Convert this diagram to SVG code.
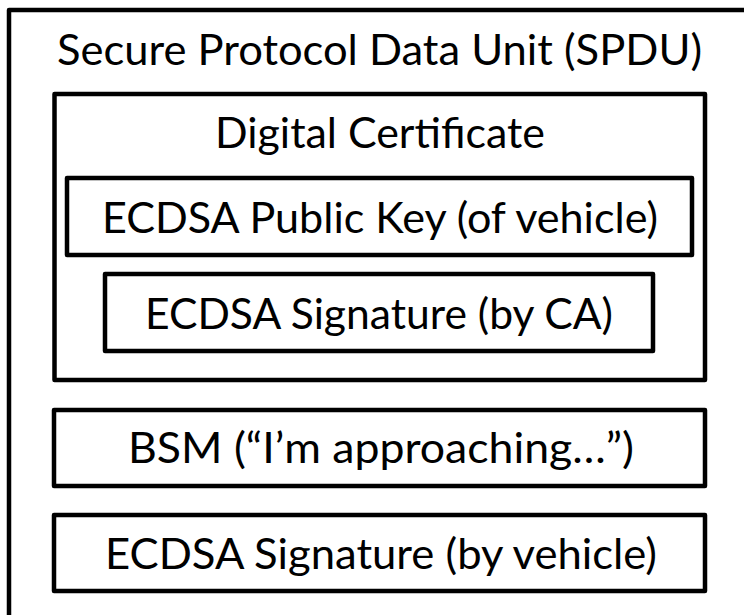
<svg xmlns="http://www.w3.org/2000/svg" width="744" height="615" viewBox="0 0 744 615">
  <style>
    .box { fill: #ffffff; stroke: #000000; stroke-width: 4.5; stroke-linejoin: round; }
    .label { font-family: Lato, "Open Sans", "Liberation Sans", sans-serif; font-size: 42px; fill: #000000; }
  </style>
  <rect width="744" height="615" fill="#ffffff"/>

  <!-- outer container: the SPDU -->
  <g id="spdu">
    <rect class="box" x="9" y="10" width="742" height="620"/>
    <text class="label" x="57" y="65" textLength="645" lengthAdjust="spacingAndGlyphs">Secure Protocol Data Unit (SPDU)</text>
  </g>

  <!-- certificate block with its two nested fields -->
  <g id="certificate">
    <rect class="box" x="54.5" y="94" width="650.5" height="286"/>
    <text class="label" x="215" y="148" textLength="330" lengthAdjust="spacingAndGlyphs">Digital Certificate</text>
  </g>

  <g id="public-key">
    <rect class="box" x="67" y="178" width="625" height="77"/>
    <text class="label" x="102" y="233" textLength="556" lengthAdjust="spacingAndGlyphs">ECDSA Public Key (of vehicle)</text>
  </g>

  <g id="ca-signature">
    <rect class="box" x="105" y="274" width="548" height="77"/>
    <text class="label" x="145" y="329" textLength="468" lengthAdjust="spacingAndGlyphs">ECDSA Signature (by CA)</text>
  </g>

  <!-- message payload -->
  <g id="bsm">
    <rect class="box" x="54" y="410" width="651" height="76"/>
    <text class="label" x="128" y="463" textLength="506" lengthAdjust="spacingAndGlyphs">BSM (“I’m approaching…”)</text>
  </g>

  <!-- signature over the message -->
  <g id="vehicle-signature">
    <rect class="box" x="54" y="515" width="651" height="76"/>
    <text class="label" x="105" y="569" textLength="552" lengthAdjust="spacingAndGlyphs">ECDSA Signature (by vehicle)</text>
  </g>

  <g id="connectors"/>
</svg>
